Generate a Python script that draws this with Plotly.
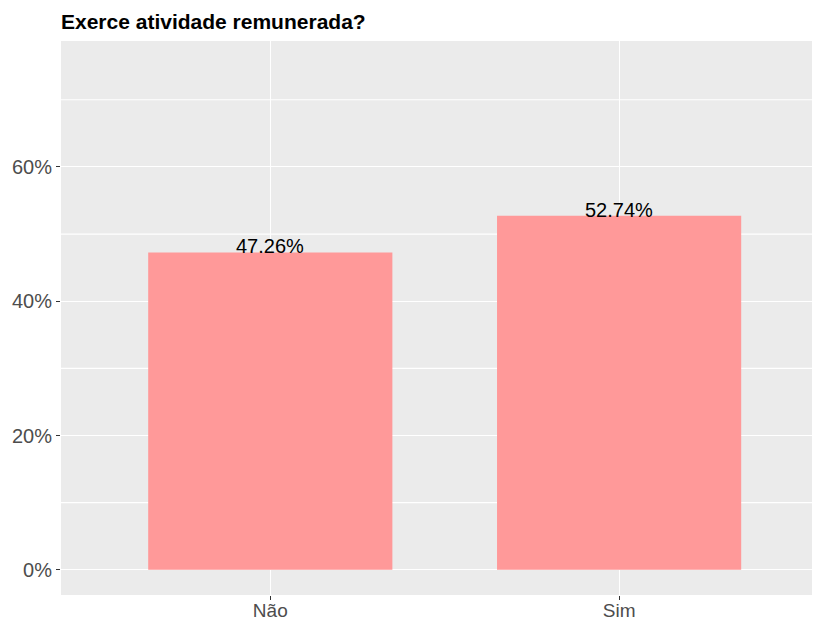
import plotly.graph_objects as go

categories = ["Não", "Sim"]
values = [47.26, 52.74]
labels = ["47.26%", "52.74%"]
ytick_vals = [0, 20, 40, 60]
ytick_text = ["0%", "20%", "40%", "60%"]
minor_vals = [10, 30, 50, 70]

fig = go.Figure()
fig.add_trace(go.Bar(
    x=categories, y=values, width=0.7,
    marker=dict(color="#FF9999", line=dict(width=0)),
    hoverinfo="skip",
))
for c, v, t in zip(categories, values, labels):
    fig.add_annotation(x=c, y=v, text=t, showarrow=False, yanchor="middle",
                       yshift=6, font=dict(family="Liberation Sans, Arial", size=20, color="black"))

for m in minor_vals:
    fig.add_shape(type="line", xref="paper", x0=0, x1=1, yref="y", y0=m, y1=m,
                  line=dict(color="white", width=1.2), layer="below")

fig.update_layout(
    width=814, height=620,
    margin=dict(l=61, r=2, t=41, b=25),
    paper_bgcolor="white", plot_bgcolor="#EBEBEB",
    showlegend=False,
    title=dict(text="<b>Exerce atividade remunerada?</b>", x=0, xref="paper", xanchor="left",
               y=1 - 22/620, yanchor="middle",
               font=dict(family="Liberation Sans, Arial", size=21, color="black")),
    font=dict(family="Liberation Sans, Arial"),
    bargap=0.3,
)
fig.update_xaxes(
    range=[-0.6, 1.553], showgrid=True, gridcolor="white", gridwidth=1.2,
    ticks="outside", ticklen=4, tickcolor="#333333", tickwidth=1,
    tickfont=dict(size=19, color="#4D4D4D"), showline=False, zeroline=False,
    fixedrange=True, automargin=False, ticklabelstandoff=-6,
)
fig.update_yaxes(
    range=[-3.75, 78.75], tickvals=ytick_vals, ticktext=ytick_text,
    showgrid=True, gridcolor="white", gridwidth=1.2,
    ticks="outside", ticklen=4, tickcolor="#333333", tickwidth=1,
    tickfont=dict(size=20, color="#4D4D4D"), showline=False, zeroline=False,
    fixedrange=True, automargin=False,
)

fig.write_html("out.html", config={"displayModeBar": False},
               post_script="document.body.style.margin='0';")
